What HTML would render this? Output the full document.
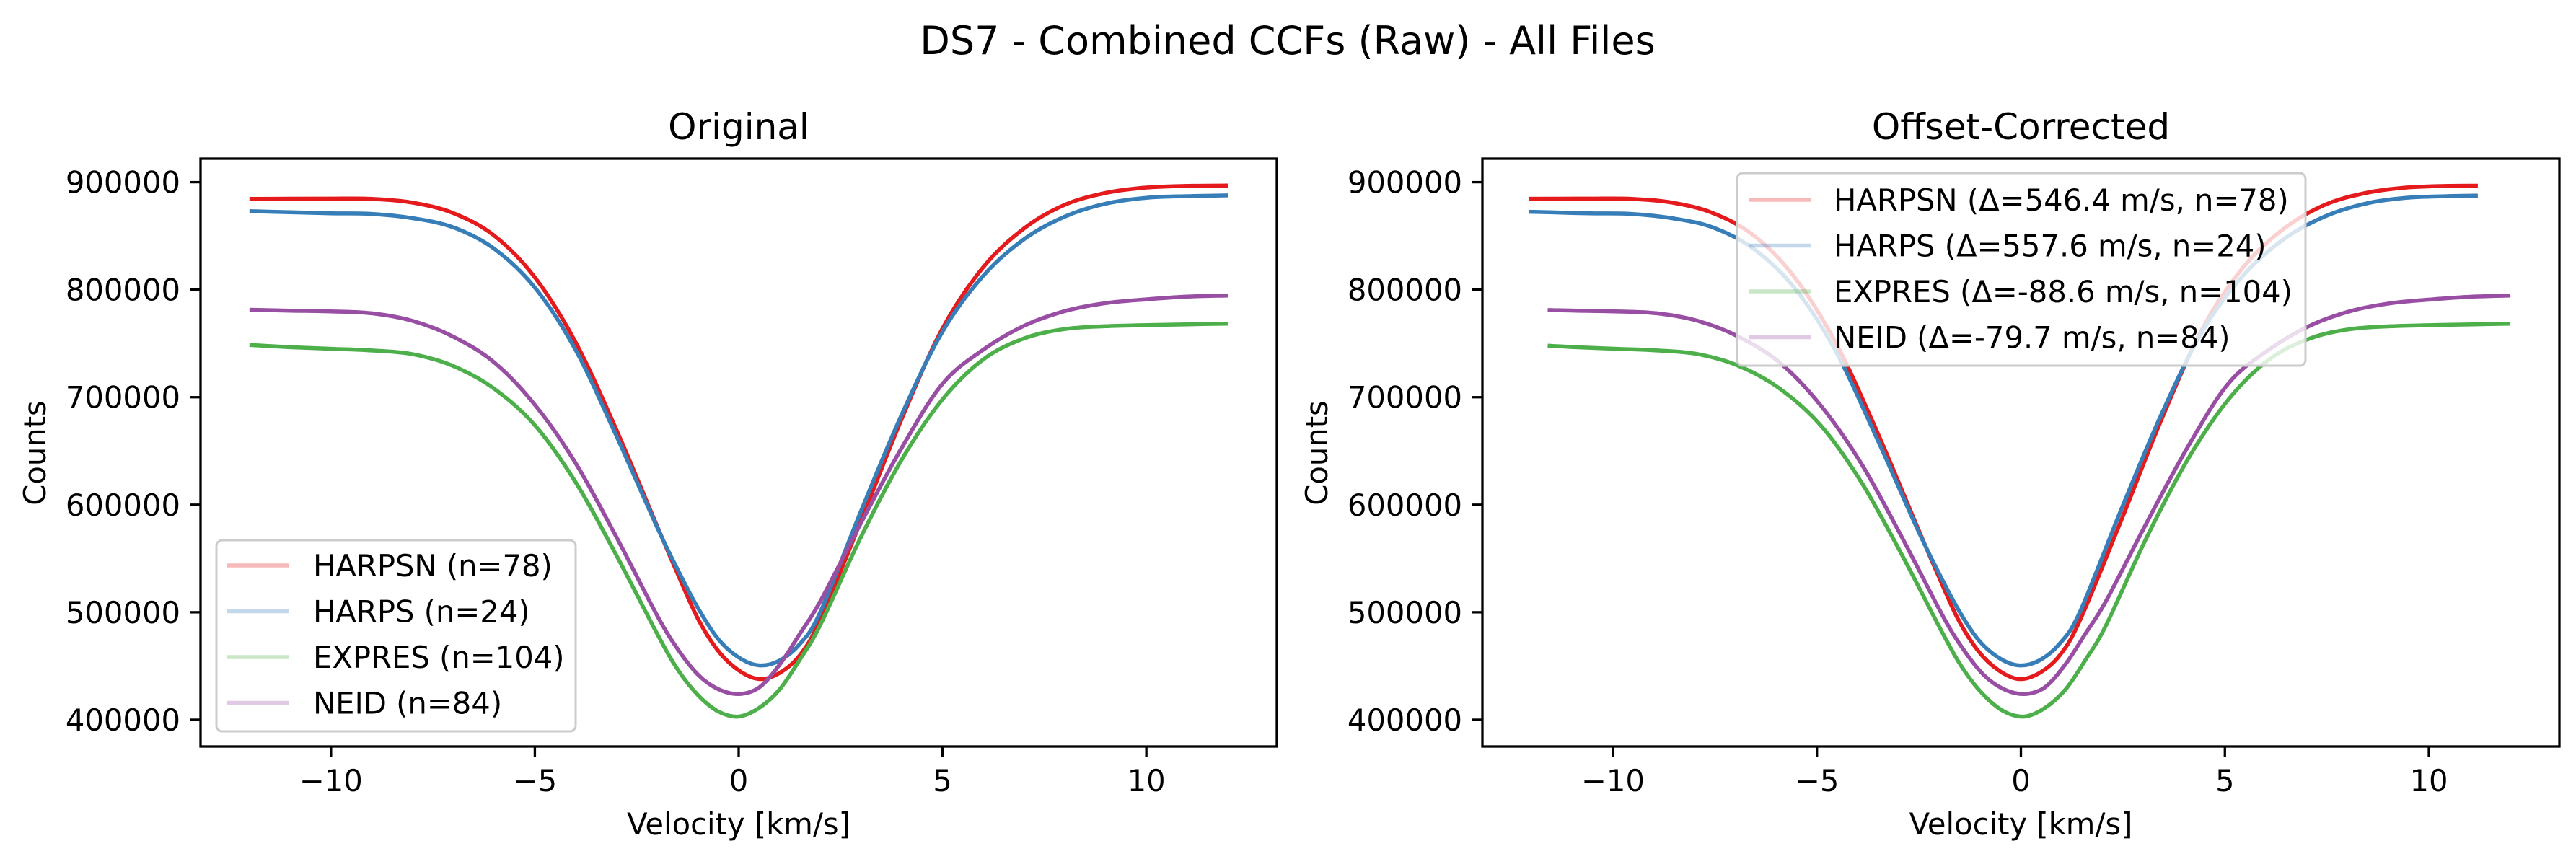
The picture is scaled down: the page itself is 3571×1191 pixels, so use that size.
<!DOCTYPE html>
<html><head><meta charset="utf-8"><style>
html,body{margin:0;padding:0;background:#fff;}
svg{display:block;font-family:"DejaVu Sans","Liberation Sans",sans-serif;}
</style></head><body>
<svg id="fig" width="3571" height="1191" viewBox="0 0 3571 1191" xmlns="http://www.w3.org/2000/svg">
<rect width="3571" height="1191" fill="#fff"/>
<text x="1785" y="75" font-size="54" text-anchor="middle">DS7 - Combined CCFs (Raw) - All Files</text>
<g id="ax0"></g>
<g id="ax1"></g>
</svg>
<script>
const velocities = [-12,-11,-10,-9,-8,-7,-6,-5,-4,-3,-2,-1.5,-1,-0.5,0,0.5,1,1.5,2,3,4,5,6,7,8,9,10,11,12];
const harpsnCounts = [884500,884600,884700,884500,881000,871200,850400,811500,751200,669800,580000,536000,494000,464000,446000,437900,443500,460000,493000,585000,680000,764000,821000,857000,879000,890000,895000,896500,896800];
const harpsCounts = [873000,872000,871000,870500,866500,858000,838200,802000,744000,664000,579000,540000,504000,475000,458000,450600,455000,470500,500000,594000,684000,761000,813000,847000,868000,880000,885500,887000,887700];
const expresCounts = [748600,746500,745000,743500,740000,729000,708000,674000,621000,553000,480000,447000,423000,407700,403000,411000,428000,456000,488000,570000,642000,698000,735200,754700,763400,766000,767000,767800,768400];
const neidCounts = [781300,780500,779800,778000,771000,756300,732500,693000,638800,570000,497000,466000,442000,428500,424000,430000,451000,480000,510000,583000,653000,712500,744200,766400,780100,787500,791000,793500,794600];
const seriesNames = ["HARPSN","HARPS","EXPRES","NEID"];
const seriesCounts = [78,24,104,84];
const offsetsMs = [546.4,557.6,-88.6,-79.7];
const correctedMin = [-12.05,-12.05,-11.6,-11.6];
const correctedMax = [11.2,11.2,12.0,12.0];
const xTicks = [-10,-5,0,5,10];
const xTickLabels = ["\u221210","\u22125","0","5","10"];
const yTicks = [400000,500000,600000,700000,800000,900000];
const yTickLabels = ["400000","500000","600000","700000","800000","900000"];
const colors = ["#e41a1c","#377eb8","#4daf4a","#984ea3"];
const allSeries = [harpsnCounts,harpsCounts,expresCounts,neidCounts];
const NS="http://www.w3.org/2000/svg";
function mk(tag,attrs,parent){const e=document.createElementNS(NS,tag);for(const k in attrs)e.setAttribute(k,attrs[k]);parent.appendChild(e);return e;}
const panels=[{g:'ax0',L:278,R:1770,title:'Original',lab:48,ytl:250},{g:'ax1',L:2055,R:3548,title:'Offset-Corrected',lab:1825,ytl:2027}];
const T=220,B=1035,XMIN=-13.2,XMAX=13.2;
const YMIN=375150,YMAX=921850;
function sy(v){return B-(v-YMIN)/(YMAX-YMIN)*(B-T);}
function pathFrom(pts){
  let d='M'+pts[0][0].toFixed(1)+','+pts[0][1].toFixed(1);
  for(let i=0;i<pts.length-1;i++){
    const p0=pts[Math.max(0,i-1)],p1=pts[i],p2=pts[i+1],p3=pts[Math.min(pts.length-1,i+2)];
    const c1=[p1[0]+(p2[0]-p0[0])/6,p1[1]+(p2[1]-p0[1])/6],c2=[p2[0]-(p3[0]-p1[0])/6,p2[1]-(p3[1]-p1[1])/6];
    d+=' C'+c1[0].toFixed(1)+','+c1[1].toFixed(1)+' '+c2[0].toFixed(1)+','+c2[1].toFixed(1)+' '+p2[0].toFixed(1)+','+p2[1].toFixed(1);
  }
  return d;
}
panels.forEach((P,pi)=>{
  const g=document.getElementById(P.g);
  const sx=v=>P.L+(v-XMIN)/(XMAX-XMIN)*(P.R-P.L);
  const cx=(P.L+P.R)/2;
  const t=mk('text',{x:cx,y:193,'font-size':50,'text-anchor':'middle'},g);t.textContent=P.title;
  
  
  const clipId='clip'+pi;
  const cp=mk('clipPath',{id:clipId},g);mk('rect',{x:P.L,y:T,width:P.R-P.L,height:B-T},cp);
  const lines=mk('g',{'clip-path':'url(#'+clipId+')'},g);
  allSeries.forEach((vals,si)=>{
    let pts=[];
    const shift=pi===1?-offsetsMs[si]/1000:0;
    if(pi===0){velocities.forEach((v,i)=>pts.push([sx(v),sy(vals[i])]));}
    else{
      const lo=correctedMin[si],hi=correctedMax[si];
      const xs=velocities.map(v=>v+shift);
      const interp=x=>{for(let i=0;i<xs.length-1;i++){if(x>=xs[i]&&x<=xs[i+1]){const f=(x-xs[i])/(xs[i+1]-xs[i]);return vals[i]+f*(vals[i+1]-vals[i]);}}return x<xs[0]?vals[0]:vals[vals.length-1];};
      pts.push([sx(lo),sy(interp(lo))]);
      xs.forEach((x,i)=>{if(x>lo+0.2&&x<hi-0.2)pts.push([sx(x),sy(vals[i])]);});
      pts.push([sx(hi),sy(interp(hi))]);
    }
    const p=mk('path',{d:pathFrom(pts),fill:'none',stroke:colors[si],'stroke-width':5.5,'stroke-linejoin':'round'},lines);
    
    
  });
  const fr=mk('rect',{x:P.L,y:T,width:P.R-P.L,height:B-T,fill:'none',stroke:'#000','stroke-width':3.3},g);
  
  
  xTicks.forEach((v,i)=>{
    const x=sx(v);
    mk('line',{x1:x,x2:x,y1:B,y2:B+14.6,stroke:'#000','stroke-width':3.3},g);
    const tl=mk('text',{x:x,y:B+62,'font-size':41.7,'text-anchor':'middle'},g);tl.textContent=xTickLabels[i];
    
    
  });
  yTicks.forEach((v,i)=>{
    const y=sy(v);
    mk('line',{x1:P.L,x2:P.L-14.6,y1:y,y2:y,stroke:'#000','stroke-width':3.3},g);
    const tl=mk('text',{x:P.ytl,y:y+15,'font-size':41.7,'text-anchor':'end'},g);tl.textContent=yTickLabels[i];
    
    
  });
  const xl=mk('text',{x:cx,y:1157,'font-size':41.7,'text-anchor':'middle'},g);xl.textContent='Velocity [km/s]';
  
  
  const yl=mk('text',{x:0,y:0,'font-size':41.7,'text-anchor':'middle',transform:'translate('+(P.lab+15)+',628) rotate(-90)'},g);yl.textContent='Counts';
  
  
  const lg=mk('g',{},g);
  
  
  const box=pi===0?{x:300,y:749,w:498,h:265,lx:315,tx:434,ey:784}:{x:2408,y:240,w:788,h:267,lx:2425,tx:2542,ey:277};
  mk('rect',{x:box.x,y:box.y,width:box.w,height:box.h,rx:8,fill:'#fff','fill-opacity':0.8,stroke:'#ccc','stroke-width':3},lg);
  seriesNames.forEach((n,si)=>{
    const y=box.ey+si*63.5;
    mk('line',{x1:box.lx,x2:box.lx+86,y1:y,y2:y,stroke:colors[si],'stroke-width':5.5,'stroke-opacity':0.3},lg);
    const label=pi===0?n+' (n='+seriesCounts[si]+')':n+' (\u0394='+offsetsMs[si].toFixed(1)+' m/s, n='+seriesCounts[si]+')';
    const tx=mk('text',{x:box.tx,y:y+15,'font-size':41.7},lg);tx.textContent=label;
    
    
  });
});
</script>
</body></html>
